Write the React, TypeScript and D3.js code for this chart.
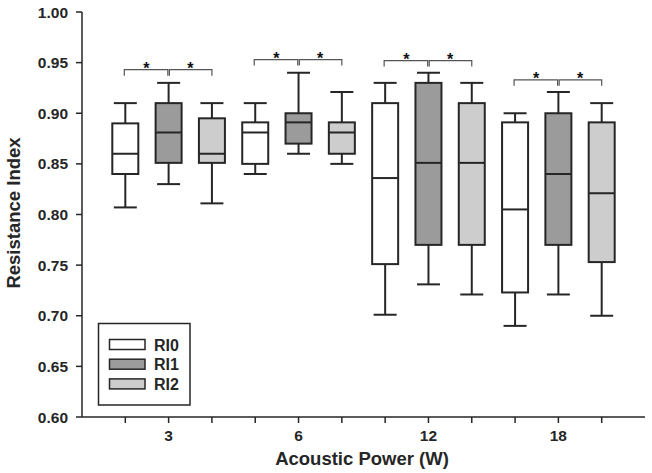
import React from "react";
import * as d3 from "d3";

const categories = ["3", "6", "12", "18"];
const seriesNames = ["RI0", "RI1", "RI2"];
const seriesFills = ["#ffffff", "#9b9b9b", "#cdcdcd"];

// [min, q1, median, q3, max] per category
const ri0 = [
  [0.807, 0.84, 0.86, 0.89, 0.91],
  [0.84, 0.85, 0.881, 0.891, 0.91],
  [0.701, 0.751, 0.836, 0.91, 0.93],
  [0.69, 0.723, 0.805, 0.891, 0.9],
];
const ri1 = [
  [0.83, 0.851, 0.881, 0.91, 0.93],
  [0.86, 0.87, 0.891, 0.9, 0.94],
  [0.731, 0.77, 0.851, 0.93, 0.94],
  [0.721, 0.77, 0.84, 0.9, 0.921],
];
const ri2 = [
  [0.811, 0.851, 0.86, 0.895, 0.91],
  [0.85, 0.86, 0.881, 0.891, 0.921],
  [0.721, 0.77, 0.851, 0.91, 0.93],
  [0.7, 0.753, 0.821, 0.891, 0.91],
];
const seriesData = [ri0, ri1, ri2];

// significance bracket heights per category
const bracketLevels = [0.943, 0.953, 0.952, 0.933];

const yTicks = [0.6, 0.65, 0.7, 0.75, 0.8, 0.85, 0.9, 0.95, 1.0];

export default function App() {
  const W = 652;
  const H = 473;
  const left = 82;
  const right = 645;
  const top = 12;
  const bottom = 417;
  const nSlots = categories.length * seriesNames.length;
  const x = d3.scaleLinear().domain([0, nSlots + 1]).range([left, right]);
  const y = d3.scaleLinear().domain([0.6, 1.0]).range([bottom, top]);
  const boxW = 26;
  const capW = 23;
  const ink = "#262626";
  const font = "'Liberation Sans', Arial, sans-serif";

  const slot = (ci: number, si: number) => ci * seriesNames.length + si + 1;

  return (
    <svg width={W} height={H} style={{ position: "absolute", left: 0, top: 0, background: "#fff" }}>
      {/* boxes */}
      {categories.map((c, ci) =>
        seriesNames.map((s, si) => {
          const [mn, q1, md, q3, mx] = seriesData[si][ci];
          const cx = x(slot(ci, si));
          return (
            <g key={c + s} stroke={ink} strokeWidth={2}>
              <line x1={cx} x2={cx} y1={y(mx)} y2={y(q3)} />
              <line x1={cx} x2={cx} y1={y(q1)} y2={y(mn)} />
              <line x1={cx - capW / 2} x2={cx + capW / 2} y1={y(mx)} y2={y(mx)} />
              <line x1={cx - capW / 2} x2={cx + capW / 2} y1={y(mn)} y2={y(mn)} />
              <rect x={cx - boxW / 2} y={y(q3)} width={boxW} height={y(q1) - y(q3)} fill={seriesFills[si]} />
              <line x1={cx - boxW / 2} x2={cx + boxW / 2} y1={y(md)} y2={y(md)} />
            </g>
          );
        })
      )}
      {/* brackets */}
      {categories.map((c, ci) => {
        const by = y(bracketLevels[ci]);
        const x0 = x(slot(ci, 0)) - 1;
        const x1 = x(slot(ci, 1));
        const x2 = x(slot(ci, 2));
        const leg = 6;
        return (
          <g key={"b" + c}>
            <path
              d={`M${x0},${by + leg}V${by}H${x1 - 0.8}V${by + leg}M${x1 + 0.8},${by + leg}V${by}H${x2}V${by + leg}`}
              fill="none"
              stroke="#555"
              strokeWidth={1.2}
            />
            <text x={(x0 + x1) / 2} y={by + 4} textAnchor="middle" fontFamily={font} fontWeight="bold" fontSize={16} fill="#111">*</text>
            <text x={(x1 + x2) / 2} y={by + 4} textAnchor="middle" fontFamily={font} fontWeight="bold" fontSize={16} fill="#111">*</text>
          </g>
        );
      })}
      {/* y axis */}
      <line x1={left} x2={left} y1={top} y2={bottom} stroke={ink} strokeWidth={1.5} />
      {yTicks.map((t) => (
        <g key={t}>
          <line x1={left - 6} x2={left} y1={y(t)} y2={y(t)} stroke={ink} strokeWidth={1.5} />
          <text x={left - 14} y={y(t) + 5.5} textAnchor="end" fontFamily={font} fontWeight="bold" fontSize={15.5} fill={ink}>
            {t.toFixed(2)}
          </text>
        </g>
      ))}
      {/* x axis */}
      <line x1={left} x2={right} y1={bottom} y2={bottom} stroke={ink} strokeWidth={1.5} />
      {d3.range(1, nSlots + 1).map((i) => (
        <line key={i} x1={x(i)} x2={x(i)} y1={bottom} y2={bottom + 6} stroke={ink} strokeWidth={1.5} />
      ))}
      {categories.map((c, ci) => (
        <text key={c} x={x(slot(ci, 1))} y={440.5} textAnchor="middle" fontFamily={font} fontWeight="bold" fontSize={15.5} fill={ink}>
          {c}
        </text>
      ))}
      <text x={362} y={465} textAnchor="middle" fontFamily={font} fontWeight="bold" fontSize={18.5} fill={ink}>
        Acoustic Power (W)
      </text>
      <text transform={`translate(20,${213}) rotate(-90)`} textAnchor="middle" fontFamily={font} fontWeight="bold" fontSize={18.5} fill={ink}>
        Resistance Index
      </text>
      {/* legend */}
      <g>
        <rect x={98.5} y={323.5} width={91.5} height={81.5} fill="#fff" stroke={ink} strokeWidth={1.5} />
        {seriesNames.map((s, si) => (
          <g key={s}>
            <rect x={109.5} y={339.5 + si * 19.7} width={35.5} height={10} fill={seriesFills[si]} stroke={ink} strokeWidth={1.5} />
            <text x={154} y={350.5 + si * 19.7} fontFamily={font} fontWeight="bold" fontSize={16} fill={ink}>
              {s}
            </text>
          </g>
        ))}
      </g>
    </svg>
  );
}
